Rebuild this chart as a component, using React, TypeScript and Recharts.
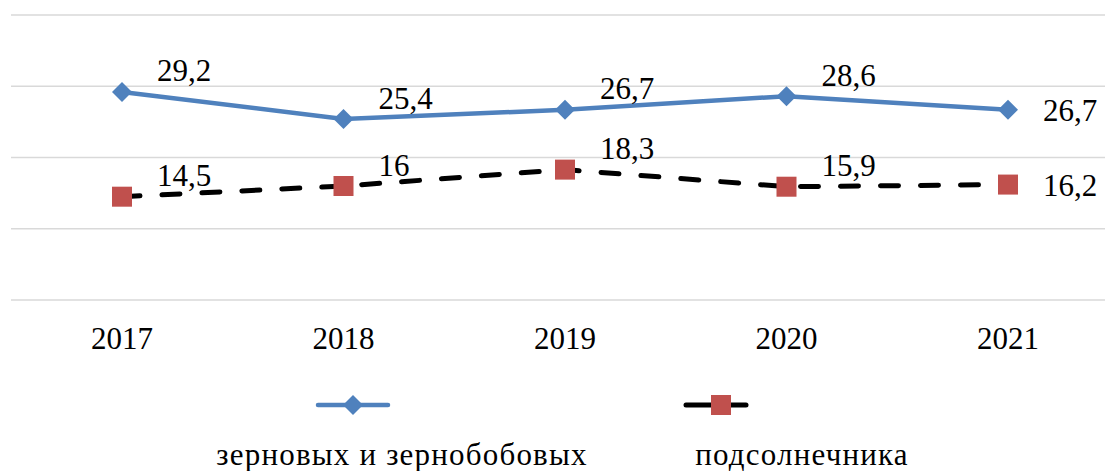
import { CartesianGrid, LabelList, Line, LineChart, XAxis, YAxis } from "recharts";

const years = ["2017", "2018", "2019", "2020", "2021"];
const grain = [29.2, 25.4, 26.7, 28.6, 26.7];
const sunflower = [14.5, 16, 18.3, 15.9, 16.2];
const seriesNames = ["зерновых и зернобобовых", "подсолнечника"];
const yTicks = [0, 10, 20, 30, 40];

const data = years.map((year, i) => ({ year, grain: grain[i], sunflower: sunflower[i] }));

const textStyle = { fontFamily: "Liberation Serif", fontSize: 31 };
const legendStyle = { fontFamily: "Liberation Serif", fontSize: 31, letterSpacing: 1.2 };
const BLUE = "#4F81BD";
const RED = "#C0504D";

const fmt = (v: number) => String(v).replace(".", ",");

// ромб для зерновых
const Diamond = ({ cx, cy }: any) => (
  <polygon points={`${cx},${cy - 10} ${cx + 10},${cy} ${cx},${cy + 10} ${cx - 10},${cy}`} fill={BLUE} />
);

// квадрат для подсолнечника
const Square = ({ cx, cy }: any) => <rect x={cx - 10} y={cy - 10} width={20} height={20} fill={RED} />;

const ValueLabel = ({ x, y, value, index }: any) => {
  const last = index === years.length - 1;
  return (
    <text x={x + 35} y={last ? y + 1 : y - 21} dominantBaseline="central" style={textStyle} fill="#000">
      {fmt(value)}
    </text>
  );
};

const YearTick = ({ x, y, payload }: any) => (
  <text x={x} y={y + 41} textAnchor="middle" style={textStyle} fill="#000">
    {payload.value}
  </text>
);

export default function App() {
  return (
    <div style={{ position: "absolute", left: 0, top: 0, width: 1105, height: 471, overflow: "hidden", background: "#fff" }}>
      <LineChart width={1119} height={471} data={data} margin={{ top: 15, right: 0, left: 11, bottom: 141 }}>
        <CartesianGrid vertical={false} stroke="#d9d9d9" strokeWidth={1.5} />
        <XAxis
          dataKey="year"
          axisLine={false}
          tickLine={false}
          height={30}
          padding={{ left: 111, right: 111 }}
          tick={<YearTick />}
          interval={0}
        />
        <YAxis hide domain={[0, 40]} ticks={yTicks} />
        <Line
          dataKey="sunflower"
          name={seriesNames[1]}
          stroke="#000"
          strokeWidth={5}
          strokeDasharray="18 22"
          strokeLinecap="round"
          dot={<Square />}
          isAnimationActive={false}
        >
          <LabelList dataKey="sunflower" content={<ValueLabel />} />
        </Line>
        <Line
          dataKey="grain"
          name={seriesNames[0]}
          stroke={BLUE}
          strokeWidth={4.5}
          dot={<Diamond />}
          isAnimationActive={false}
        >
          <LabelList dataKey="grain" content={<ValueLabel />} />
        </Line>
      </LineChart>

      {/* легенда */}
      <svg width={1105} height={100} style={{ position: "absolute", left: 0, top: 371 }}>
        <line x1={318} y1={34} x2={388} y2={34} stroke={BLUE} strokeWidth={4.5} strokeLinecap="round" />
        <polygon points="353,24 363,34 353,44 343,34" fill={BLUE} />
        <text x={402} y={94} textAnchor="middle" style={legendStyle} fill="#000">
          {seriesNames[0]}
        </text>
        <line x1={686} y1={34} x2={746} y2={34} stroke="#000" strokeWidth={5} strokeLinecap="round" />
        <rect x={711} y={24} width={20} height={20} fill={RED} />
        <text x={802} y={94} textAnchor="middle" style={legendStyle} fill="#000">
          {seriesNames[1]}
        </text>
      </svg>
    </div>
  );
}
